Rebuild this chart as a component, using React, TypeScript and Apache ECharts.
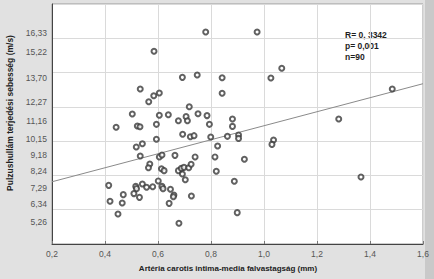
import React, { useEffect, useRef } from 'react';
import * as echarts from 'echarts';

const xValues = [
  0.780, 0.974, 0.585, 1.067, 0.692, 0.748, 0.842, 1.026, 0.533, 1.484,
  0.584, 0.605, 0.565, 0.842, 0.718, 0.503, 0.605, 0.639, 0.706, 0.751,
  0.785, 0.881, 1.282, 0.677, 0.711, 0.442, 0.522, 0.532, 0.594, 0.794,
  0.881, 0.693, 0.722, 0.736, 0.799, 0.862, 0.904, 0.904, 0.594, 1.036,
  1.030, 0.541, 0.518, 0.825, 0.533, 0.605, 0.615, 0.664, 0.740, 0.815,
  0.926, 0.569, 0.564, 0.613, 0.623, 0.677, 0.688, 0.698, 0.716, 0.725,
  0.692, 0.820, 0.703, 0.601, 0.414, 0.516, 0.519, 0.541, 0.557, 0.580,
  0.615, 0.619, 0.647, 0.888, 1.366, 0.469, 0.509, 0.530, 0.660, 0.658,
  0.726, 0.419, 0.465, 0.642, 0.449, 0.899, 0.679,
];
const yValues = [
  16.37, 16.37, 15.24, 14.25, 13.72, 13.86, 13.70, 13.68, 13.04, 13.04,
  12.65, 12.81, 12.30, 12.79, 12.01, 11.58, 11.51, 11.54, 11.43, 11.60,
  11.49, 11.29, 11.29, 11.19, 11.19, 10.81, 10.88, 10.84, 10.98, 10.98,
  10.86, 10.40, 10.26, 10.32, 10.24, 10.28, 10.36, 10.16, 10.11, 10.07,
  9.81, 9.85, 9.66, 9.72, 9.13, 9.08, 9.19, 9.17, 9.08, 9.08,
  8.94, 8.67, 8.45, 8.39, 8.28, 8.28, 8.41, 8.47, 8.45, 8.65,
  8.08, 8.24, 7.75, 7.68, 7.42, 7.36, 7.23, 7.50, 7.31, 7.34,
  7.36, 7.23, 7.19, 7.66, 7.91, 6.88, 6.94, 6.72, 6.86, 6.76,
  6.80, 6.49, 6.39, 6.37, 5.75, 5.83, 5.21,
];
const yTickLabels = [5.26, 6.34, 7.29, 8.24, 9.18, 10.15, 11.16, 12.27, 13.7, 15.22, 16.33];
const regX = [0.2, 1.6];
const regY = [7.63, 13.35];
const statsLines = ['R= 0, 3342', 'p= 0,001', 'n=90'];
const xTitle = 'Artéria carotis intima-media falvastagság (mm)';
const yTitle = 'Pulzushullám terjedési sebesség (m/s)';

const FONT = '"Liberation Sans", Arial, sans-serif';

export default function App() {
  const ref = useRef<HTMLDivElement>(null);
  useEffect(() => {
    if (!ref.current) return;
    const chart = echarts.init(ref.current, null, { renderer: 'svg' });
    const points = xValues.map((x, i) => [x, yValues[i]]);
    const reg = regX.map((x, i) => [x, regY[i]]);
    chart.setOption({
      animation: false,
      backgroundColor: '#e1e1e1',
      grid: {
        left: 52, right: 11, top: 4, bottom: 35,
        show: true, backgroundColor: '#ffffff', borderColor: '#9a9a9a', borderWidth: 1,
      },
      xAxis: {
        type: 'value', min: 0.2, max: 1.6, interval: 0.2,
        axisLine: { show: true, onZero: false, lineStyle: { color: '#444', width: 1 } },
        axisTick: { show: true, inside: true, length: 3, lineStyle: { color: '#777' } },
        axisLabel: {
          color: '#555', fontSize: 8.5, fontFamily: FONT, margin: 5,
          formatter: (v: number) => v.toFixed(1).replace('.', ','),
        },
        splitLine: { show: true, lineStyle: { color: '#dadada', width: 1 } },
      },
      yAxis: {
        type: 'value', min: 4, max: 18, interval: 2,
        axisLine: { show: true, onZero: false, lineStyle: { color: '#444', width: 1 } },
        axisTick: { show: false },
        axisLabel: {
          customValues: yTickLabels,
          color: '#555', fontSize: 8.5, fontFamily: FONT, margin: 5,
          formatter: (v: number) => v.toFixed(2).replace('.', ','),
        },
        splitLine: { show: true, lineStyle: { color: '#dadada', width: 1 } },
      },
      series: [
        {
          type: 'line', data: reg, symbol: 'none', silent: true,
          lineStyle: { color: '#8a8a8a', width: 1 }, z: 1,
        },
        {
          type: 'scatter', data: points, symbol: 'emptyCircle', symbolSize: 5,
          itemStyle: { color: '#3a3a3a', borderColor: '#3a3a3a', borderWidth: 0.9 }, z: 2,
        },
      ],
      graphic: [
        { type: 'rect', shape: { x: 425, y: 0, width: 9, height: 279 }, style: { fill: '#c9c9c9' }, silent: true },
        ...statsLines.map((t, i) => ({
          type: 'text', x: 345, y: 35 + i * 11,
          style: { text: t, fill: '#1e1e1e', font: `bold 8.5px ${FONT}`, textVerticalAlign: 'middle' },
        })),
        {
          type: 'text', x: 228, y: 268,
          style: { text: xTitle, fill: '#222', font: `bold 8px ${FONT}`, textAlign: 'center', textVerticalAlign: 'middle' },
        },
        {
          type: 'text', x: 10, y: 113, rotation: Math.PI / 2,
          style: { text: yTitle, fill: '#222', font: `bold 8.5px ${FONT}`, textAlign: 'center', textVerticalAlign: 'middle' },
        },
      ],
    });
    return () => chart.dispose();
  }, []);
  return (
    <div
      ref={ref}
      style={{ position: 'fixed', left: 0, top: 0, width: 434, height: 279 }}
    />
  );
}
